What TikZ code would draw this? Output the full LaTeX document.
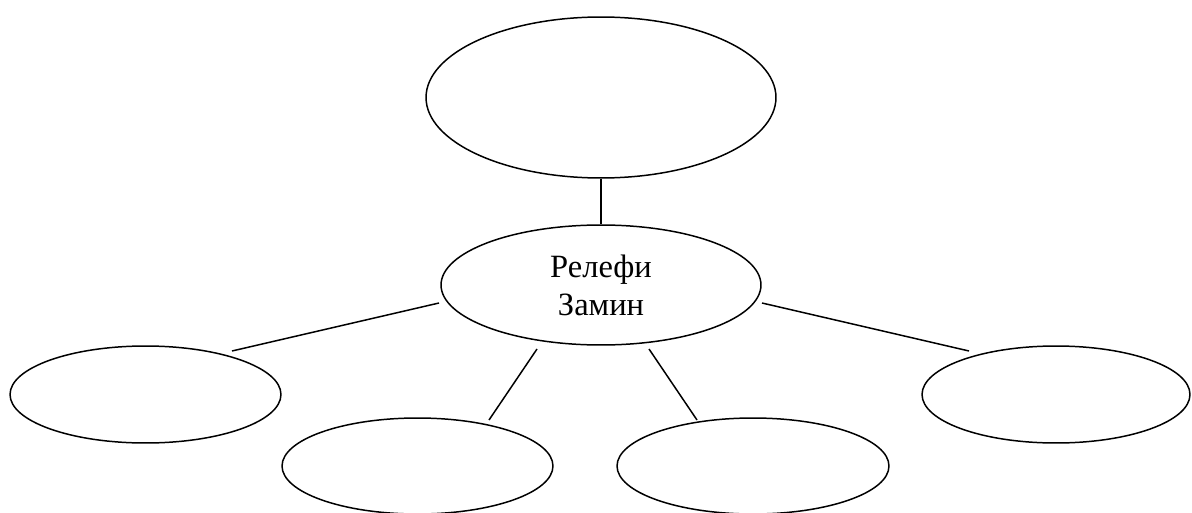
\documentclass[tikz,border=0pt]{standalone}
\usepackage{fontspec}
\setmainfont{Liberation Serif}
\usetikzlibrary{shapes.geometric}

\begin{document}
\begin{tikzpicture}[x=0.02cm, y=-0.02cm, line width=0.85pt,
  oval/.style={draw, ellipse, inner sep=0pt}]

\useasboundingbox (0,0) rectangle (1192,513);

\node[oval, minimum width=7cm, minimum height=3.22cm] (top) at (601, 97.5) {};
\node[oval, minimum width=6.4cm, minimum height=2.4cm, align=center,
  font=\fontsize{18.5}{21.5}\selectfont] (relief) at (601, 285) {Релефи\\Замин};

\def\y{394.5}
\node[oval, minimum width=5.42cm, minimum height=1.94cm] (left) at (145.5, \y) {};
\node[oval, minimum width=5.36cm, minimum height=1.94cm] (right) at (1056, \y) {};

\def\y{466}
\node[oval, minimum width=5.42cm, minimum height=1.92cm] (botleft) at (417.5, \y) {};
\node[oval, minimum width=5.44cm, minimum height=1.92cm] (botright) at (753, \y) {};

\coordinate (a1) at (439, 303);
\coordinate (a2) at (232, 351);
\coordinate (b1) at (537, 349);
\coordinate (b2) at (489, 420);
\coordinate (c1) at (649, 349);
\coordinate (c2) at (697, 420);
\coordinate (d1) at (762, 303);
\coordinate (d2) at (969, 351);

\draw (top) -- (relief);
\draw (a1) -- (a2);
\draw (b1) -- (b2);
\draw (c1) -- (c2);
\draw (d1) -- (d2);

\end{tikzpicture}
\end{document}
